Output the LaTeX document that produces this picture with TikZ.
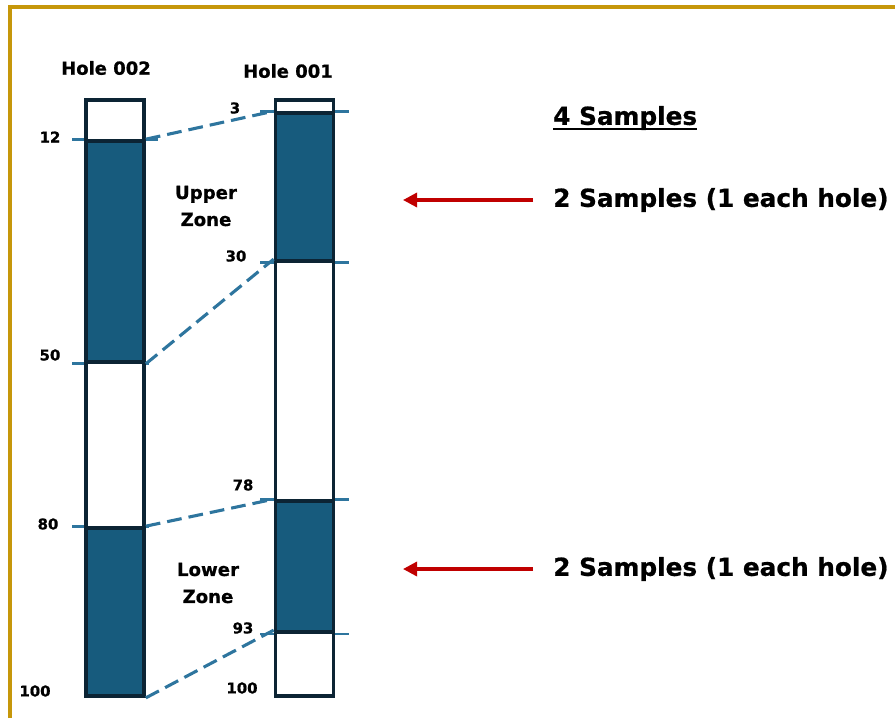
\documentclass[tikz,border=0pt]{standalone}
\usepackage{fontspec}
\setmainfont{DejaVu Sans}[BoldFeatures={FakeBold=0.8}]
\usetikzlibrary{arrows.meta,backgrounds,positioning}
\definecolor{zonefill}{RGB}{23,91,125}
\definecolor{colline}{RGB}{12,36,52}
\definecolor{tieblue}{RGB}{46,117,158}
\definecolor{framegold}{RGB}{198,151,10}
\definecolor{pullred}{RGB}{192,0,0}

\begin{document}
\begin{tikzpicture}[x=0.025cm, y=-0.025cm, line width=.2mm,
            seg/.style={
            draw=colline,
            line width=2.6pt,
            rectangle,
            inner sep=0,
            minimum width=1.45cm},
            tick/.style={draw=tieblue, line width=1.9pt},
            tie/.style={draw=tieblue, line width=2.2pt, dash pattern=on 10.5pt off 5pt},
            num/.style={font=\bfseries\fontsize{10.6}{12}\selectfont, inner sep=0},
            head/.style={font=\bfseries\fontsize{12.8}{14}\selectfont, inner sep=0},
            zonelbl/.style={font=\bfseries\fontsize{12.9}{19.2}\selectfont, align=center, inner sep=0},
            note/.style={font=\bfseries\fontsize{17.6}{20}\selectfont, inner sep=0, anchor=west},
            pull/.style={draw=pullred, line width=2.3pt, -{Triangle[length=10pt,width=10pt]}, shorten <=0.5cm}]

           \useasboundingbox (0,0) rectangle (895,718);
           \draw[framegold, line width=2.7pt] (10,718) -- (10,7) -- (895,7);

           % hole 002
           \foreach \nm/\ya/\yb/\col in {A/100/141/white, B/141/362/zonefill, C/362/528/white, D/528/696/zonefill}
           {
                      \node[seg, fill=\col, minimum height={(\yb-\ya)*0.025cm}] (two\nm) at (115,{(\ya+\yb)/2}) {};
           }
           % hole 001
           \foreach \nm/\ya/\yb/\col in {A/100/113/white, B/113/261/zonefill, C/261/501/white, D/501/632/zonefill, E/632/696/white}
           {
                      \node[seg, fill=\col, minimum height={(\yb-\ya)*0.025cm}] (one\nm) at (304.5,{(\ya+\yb)/2}) {};
           }

           \begin{pgfonlayer}{background}
                      \draw[tick] ([xshift=-0.3cm]twoB.north west) -- ([xshift=0.3cm]twoB.north east);
                      \draw[tick] ([xshift=-0.3cm]twoB.south west) -- ([xshift=0.08cm]twoB.south east);
                      \draw[tick] ([xshift=-0.3cm]twoD.north west) -- ([xshift=0.08cm]twoD.north east);
                      \foreach \nm in {B,D}
                      {
                                 \draw[tick] ([xshift=-0.33cm]one\nm.north west) -- ([xshift=0.33cm]one\nm.north east);
                                 \draw[tick] ([xshift=-0.33cm]one\nm.south west) -- ([xshift=0.33cm]one\nm.south east);
                      }
           \end{pgfonlayer}

           \draw[tie] (twoB.north east) -- (oneB.north west);
           \draw[tie] (twoB.south east) -- (oneC.north west);
           \draw[tie] (twoD.north east) -- (oneD.north west);
           \draw[tie] (twoD.south east) -- (oneE.north west);

           \node[head] (hole2) at (106,68) {Hole 002};
           \node[head] (hole1) at (288,71) {Hole 001};

           \node[num] (d12) at (50,137) {12};
           \node[num] (d50) at (50,355) {50};
           \node[num] (d80) at (48,524) {80};
           \node[num] (d100a) at (35,691) {100};
           \node[num] (d3) at (235,108) {3};
           \node[num] (d30) at (236,256) {30};
           \node[num] (d78) at (243,485) {78};
           \node[num] (d93) at (243,628) {93};
           \node[num] (d100b) at (242,688) {100};

           \node[zonelbl] (upper) at (206,206) {Upper\\Zone};
           \node[zonelbl] (lower) at (208,583) {Lower\\Zone};

           \node[note] (total) at (553,118) {4 Samples};
           \draw[line width=1.5pt] ([yshift=-0.1cm]total.base west) -- ([yshift=-0.1cm]total.base east);
           \node[note] (upNote) at (553,200) {2 Samples (1 each hole)};
           \node[note] (lowNote) at (553,569) {2 Samples (1 each hole)};

           \coordinate (upTip) at (403,200);
           \coordinate (lowTip) at (403,569);
           \draw[pull] (upNote.west) -- (upTip);
           \draw[pull] (lowNote.west) -- (lowTip);
\end{tikzpicture}
\end{document}
